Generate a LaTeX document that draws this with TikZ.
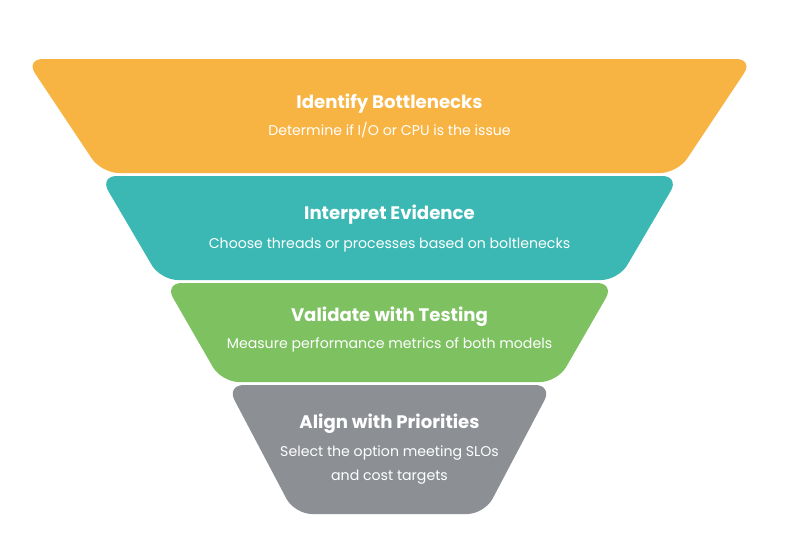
\documentclass[tikz,border=0pt]{standalone}
\usepackage{fontspec}
\setmainfont{Poppins}
\usetikzlibrary{positioning}

\definecolor{stepone}{HTML}{F8B443}
\definecolor{steptwo}{HTML}{3BB8B3}
\definecolor{stepthree}{HTML}{7DC161}
\definecolor{stepfour}{HTML}{8C9095}

\tikzset{
  layer/.style={rounded corners=13pt},
  ttl/.style={text=white,font=\bfseries\fontsize{13.6}{16}\selectfont},
  sub/.style={text=white,font=\fontsize{10.6}{18}\selectfont,align=center}
}

\begin{document}
\begin{tikzpicture}[x=0.75pt,y=-0.75pt]
\fill[white] (0,0) rectangle (800,533);
% funnel layers
\fill[layer,fill=stepone]   (25.5,59)  -- (753.5,59)  -- (677.5,173) -- (101.5,173) -- cycle;
\fill[layer,fill=steptwo]   (99.5,176) -- (679.5,176) -- (618.5,280) -- (160.5,280) -- cycle;
\fill[layer,fill=stepthree] (164.5,283) -- (614.5,283) -- (557.5,382) -- (221.5,382) -- cycle;
\fill[layer,fill=stepfour]  (226.5,385) -- (552.5,385) -- (484.5,514) -- (294.5,514) -- cycle;
% texts
\node[ttl] (identify) at (389.5,104) {Identify Bottlenecks};
\node[sub] (identifysub) at (389.5,130) {Determine if I/O or CPU is the issue};
\node[ttl] (interpret) at (389.5,215) {Interpret Evidence};
\node[sub] (interpretsub) at (389.5,245) {Choose threads or processes based on boltlenecks};
\node[ttl] (validate) at (389.5,317) {Validate with Testing};
\node[sub] (validatesub) at (389.5,345) {Measure performance metrics of both models};
\node[ttl] (align) at (389.5,424) {Align with Priorities};
\node[sub] (alignsub) at (389.5,465) {Select the option meeting SLOs\\and cost targets};
\end{tikzpicture}
\end{document}
